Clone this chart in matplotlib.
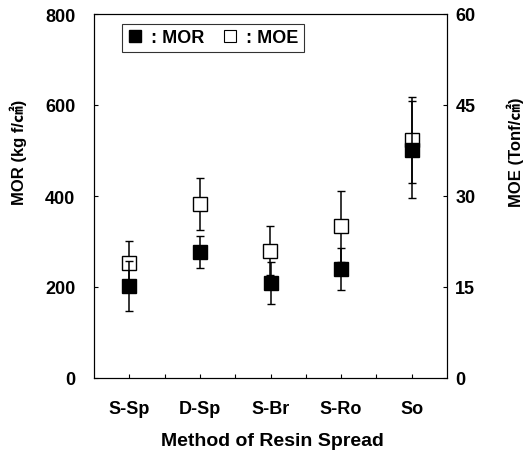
import matplotlib
matplotlib.use("Agg")
import matplotlib.pyplot as plt
from matplotlib.lines import Line2D
import numpy as np

plt.rcParams['font.family'] = ['Liberation Sans', 'Noto Sans CJK KR', 'DejaVu Sans']
plt.rcParams['font.weight'] = 'bold'

# Resin spread methods and measured properties
methods = ['S-Sp', 'D-Sp', 'S-Br', 'S-Ro', 'So']
mor = [203, 277, 209, 240, 502]          # kgf/cm2
mor_sd = [55, 35, 46, 46, 106]
moe = [19.0, 28.7, 21.0, 25.0, 39.3]     # tonf/cm2
moe_sd = [3.5, 4.3, 4.1, 5.9, 7.1]

mor_ticks = [0, 200, 400, 600, 800]
moe_ticks = [0, 15, 30, 45, 60]

W, H = 523, 460
fig = plt.figure(figsize=(W / 100, H / 100), dpi=100)
ax = fig.add_axes([94 / W, 1 - 379 / H, (447 - 94) / W, (379 - 15) / H])
ax2 = ax.twinx()

x = np.arange(1, len(methods) + 1)
ms = 10

ax2.errorbar(x, moe, yerr=moe_sd, fmt='s', color='black', mfc='white', mec='black',
             ms=ms, mew=1.0, elinewidth=1.1, capsize=3, capthick=1.1)
ax.errorbar(x, mor, yerr=mor_sd, fmt='s', color='black', mfc='black', mec='black',
            ms=ms, mew=1.0, elinewidth=1.1, capsize=3, capthick=1.1)
ax.set_zorder(ax2.get_zorder() + 1)
ax.patch.set_visible(False)

ax.set_xlim(0.5, 5.5)
ax.set_ylim(0, 800)
ax2.set_ylim(0, 60)
ax.set_xticks(x)
ax.set_xticklabels(methods)
ax.set_xticks(x[:-1] + 0.5, minor=True)
ax.set_yticks(mor_ticks)
ax2.set_yticks(moe_ticks)

fs = 13
ax.tick_params(axis='x', which='both', direction='in', length=3, width=0.8, pad=16,
               labelsize=fs)
ax.tick_params(axis='y', direction='in', length=3, width=0.8, pad=13.5, labelsize=fs)
ax2.tick_params(axis='y', direction='in', length=3, width=0.8, pad=6, labelsize=fs)
for lab in ax.get_xticklabels() + ax.get_yticklabels() + ax2.get_yticklabels():
    lab.set_fontweight('bold')

for a in (ax, ax2):
    for s in a.spines.values():
        s.set_linewidth(0.8)

fig.text(18 / W, 1 - 152 / H, 'MOR (kg f/㎠)', rotation=90, ha='center', va='center',
         fontsize=12, fontweight='bold')
fig.text(515 / W, 1 - 152 / H, 'MOE (Tonf/㎠)', rotation=90, ha='center', va='center',
         fontsize=12, fontweight='bold')
fig.text(272 / W, 1 - 442 / H, 'Method of Resin Spread', ha='center', va='center',
         fontsize=14, fontweight='bold')

handles = [
    Line2D([], [], ls='none', marker='s', ms=8, mfc='black', mec='black'),
    Line2D([], [], ls='none', marker='s', ms=8, mfc='white', mec='black', mew=0.8),
]
leg = ax.legend(handles, [': MOR', ': MOE'], ncol=2, loc='upper left',
                bbox_to_anchor=(122 / W, 1 - 25 / H), bbox_transform=fig.transFigure,
                frameon=True, fancybox=False, handlelength=0.8, handletextpad=0.5,
                columnspacing=1.0, borderpad=0.3, borderaxespad=0,
                prop={'size': 13, 'weight': 'bold'})
leg.get_frame().set_edgecolor('black')
leg.get_frame().set_linewidth(0.8)

fig.savefig('out.png', dpi=100)
